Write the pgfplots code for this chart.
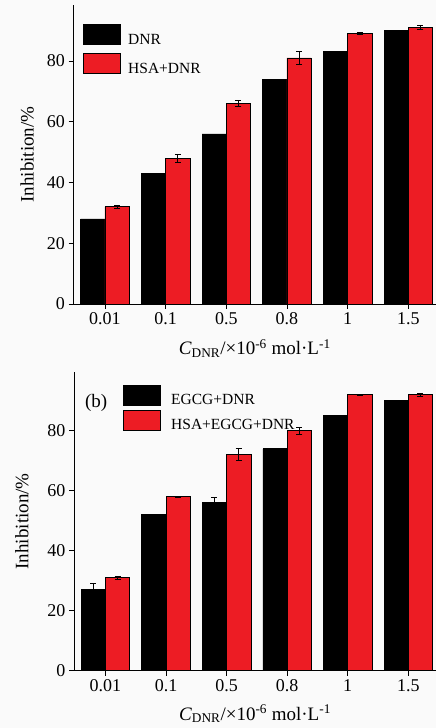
\documentclass[border=0pt]{standalone}
\usepackage{fontspec}
\setmainfont{Liberation Serif}
\usepackage{pgfplots}
\pgfplotsset{compat=1.18}
\definecolor{barred}{RGB}{237,28,36}
\definecolor{bg}{RGB}{250,250,250}

\pgfplotsset{
  mystyle/.style={
    scale only axis,
    axis x line*=bottom, axis y line*=left,
    axis line style={line width=0.8pt, black},
    xmin=-0.519, xmax=5.457, ymin=0,
    xtick={0,1,2,3,4,5}, xticklabels={0.01,0.1,0.5,0.8,1,1.5},
    ytick={0,20,40,60,80},
    tick align=outside, major tick length=5pt,
    tick style={line width=0.8pt, black},
    /pgf/number format/assume math mode=true,
    tick label style={font=\fontsize{18}{18}\selectfont},
    label style={font=\fontsize{19}{19}\selectfont},
    xlabel={\textit{C}\textsubscript{DNR}/×10\textsuperscript{-6} mol·L\textsuperscript{-1}},
    ylabel={Inhibition/\%},
    clip=false,
    legend image code/.code={\draw[#1] (0pt,-4.9pt) rectangle (37pt,15.1pt);},
    legend cell align=left,
  },
  blackbar/.style={ybar, bar width=0.4, bar shift=-0.2, fill=black, draw=black, line width=0.6pt},
  redbar/.style={ybar, bar width=0.4, bar shift=0.2, fill=barred, draw=black, line width=0.6pt},
  errplot/.style={forget plot, draw=none, mark=none,
    error bars/.cd, y dir=both, y explicit,
    error bar style={draw=black, line width=0.6pt},
    error mark options={draw=black, rotate=90, mark size=3pt, line width=0.6pt}},
}

% xl, xr: bar centres of the black and red bars
\pgfplotstableread{
x xl xr black red rerr
0 -0.2 0.2 28 32 0.5
1 0.8 1.2 43 48 1.3
2 1.8 2.2 56 66 1.0
3 2.8 3.2 74 81 2.0
4 3.8 4.2 83 89 0.4
5 4.8 5.2 90 91 0.6
}\toptable

\pgfplotstableread{
x xl xr black berr red rerr
0 -0.2 0.2 27 2.0 31 0.6
1 0.8 1.2 52 0.2 58 0.3
2 1.8 2.2 56 1.8 72 2.0
3 2.8 3.2 74 0.0 80 1.1
4 3.8 4.2 85 0.15 92 0.3
5 4.8 5.2 90 0.0 92 0.4
}\bottable

\begin{document}
\begin{tikzpicture}[x=1pt,y=1pt]
\fill[bg] (0,0) rectangle (436,728);
\path[use as bounding box] (0,0) rectangle (436,728);

% top panel
\begin{axis}[mystyle,
  at={(73.5pt,424pt)}, anchor=south west,
  width=362.5pt, height=299pt, ymax=98.4,
  xlabel style={at={(axis description cs:0.5,-0.149)}, anchor=center, inner sep=0pt},
  ylabel style={at={(axis description cs:-0.128,0.5)}, anchor=center, inner sep=0pt},
  legend style={draw=none, fill=none, inner sep=0pt, column sep=7.7pt, row sep=7.8pt,
    font=\fontsize{15.5}{15.5}\selectfont, nodes={inner sep=0pt},
    at={(rel axis cs:0.0254,0.936)}, anchor=north west},
]
\addplot[blackbar] table[x=x, y=black] {\toptable};
\addlegendentry{DNR}
\addplot[redbar] table[x=x, y=red] {\toptable};
\addlegendentry{HSA+DNR}
\addplot[errplot] table[x=xr, y=red, y error=rerr] {\toptable};
\end{axis}

% bottom panel
\begin{axis}[mystyle,
  at={(74pt,57.3pt)}, anchor=south west,
  width=362pt, height=298.7pt, ymax=99.6,
  xlabel style={at={(axis description cs:0.5,-0.145)}, anchor=center, inner sep=0pt},
  ylabel style={at={(axis description cs:-0.144,0.5)}, anchor=center, inner sep=0pt},
  legend style={draw=none, fill=none, inner sep=0pt, column sep=10.7pt, row sep=3.2pt,
    font=\fontsize{15.5}{15.5}\selectfont, nodes={inner sep=0pt},
    at={(rel axis cs:0.1345,0.9565)}, anchor=north west},
]
\addplot[blackbar] table[x=x, y=black] {\bottable};
\addlegendentry{EGCG+DNR}
\addplot[redbar] table[x=x, y=red] {\bottable};
\addlegendentry{HSA+EGCG+DNR}
\addplot[errplot] table[x=xl, y=black, y error=berr] {\bottable};
\addplot[errplot] table[x=xr, y=red, y error=rerr] {\bottable};
\node[anchor=west, inner sep=0pt, font=\fontsize{19}{19}\selectfont] at (axis description cs:0.030,0.896) {(b)};
\end{axis}
\end{tikzpicture}
\end{document}
